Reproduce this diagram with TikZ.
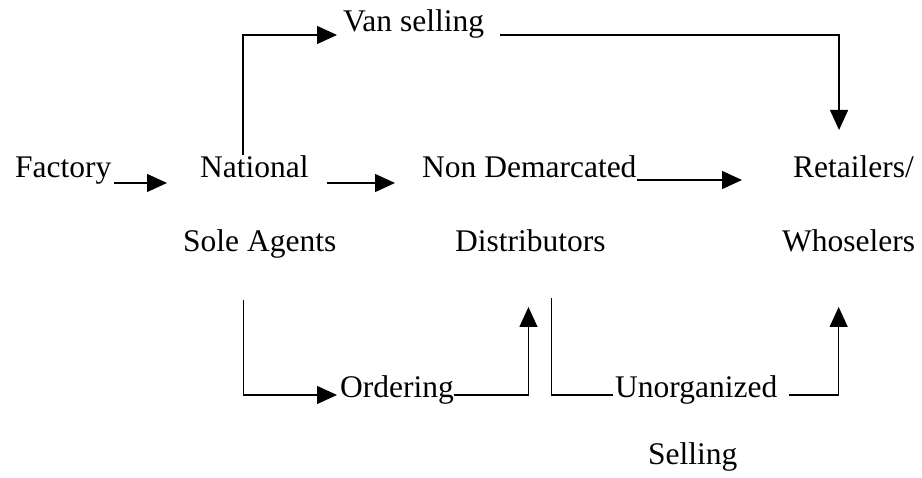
\documentclass[tikz,border=0pt]{standalone}
\usepackage{fontspec}
\setmainfont{Liberation Serif}
\usetikzlibrary{arrows.meta}
\begin{document}
\begin{tikzpicture}[x=1pt,y=-1pt,
  lbl/.style={anchor=base west, inner sep=0pt, font=\fontsize{31.5}{38}\selectfont},
  link/.style={line width=1.3pt},
  arr/.style={link, -{Triangle[length=20pt,width=18pt]}}]
\useasboundingbox (0,0) rectangle (922,478);

% labels of the channel members
\node[lbl] (factory) at (15,178)  {Factory};
\node[lbl] (national) at (200,178) {National};
\node[lbl] (sole)    at (183,252) {Sole Agents};
\node[lbl] (nondem)  at (422,178) {Non Demarcated};
\node[lbl] (dist)    at (455,252) {Distributors};
\node[lbl] (retail)  at (793,178) {Retailers/};
\node[lbl] (whos)    at (782,252) {Whoselers};

% labels of the routes
\node[lbl] (van)     at (343,32)  {Van selling};
\node[lbl] (ord)     at (340,398) {Ordering};
\node[lbl] (unorg)   at (615,398) {Unorganized};
\node[lbl] (sell)    at (648,465) {Selling};

% free ends of the bent routes
\coordinate (vanstart) at ([shift={(-11.5,-23)}]national.base);
\coordinate (vantip)   at ([shift={(-14.5,-48)}]retail.base);
\coordinate (ordstart) at ([shift={(-16,48)}]sole.base);
\coordinate (ordtip)   at ([shift={(-2,55)}]dist.base);
\coordinate (unstart)  at ([shift={(21,46)}]dist.base);
\coordinate (untip)    at ([shift={(-10,55)}]whos.base);

% main chain
\draw[arr] ([shift={(2,5)}]factory.base east) -- ([shift={(-33,5)}]national.base west);
\draw[arr] ([shift={(18,5)}]national.base east) -- ([shift={(-27,5)}]nondem.base west);
\draw[arr] ([shift={(0,2)}]nondem.base east) -- ([shift={(-51,2)}]retail.base west);

% van selling route
\draw[arr] (vanstart) |- ([shift={(-6,3)}]van.base west);
\draw[arr] ([shift={(16,3)}]van.base east) -| (vantip);

% ordering route
\draw[arr] (ordstart) |- ([shift={(-3,-3)}]ord.base west);
\draw[arr] ([shift={(0,-3)}]ord.base east) -| (ordtip);

% unorganized selling route
\draw[link] (unstart) |- ([shift={(-2,-3)}]unorg.base west);
\draw[arr] ([shift={(11,-3)}]unorg.base east) -| (untip);
\end{tikzpicture}
\end{document}
